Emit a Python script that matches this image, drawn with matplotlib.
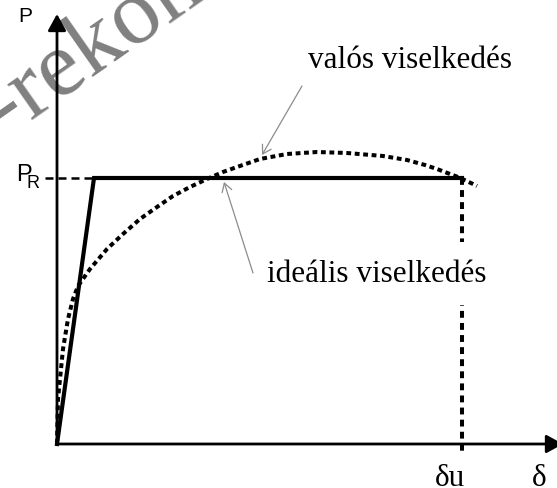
import matplotlib.pyplot as plt

# Idealised elastic-plastic diagram (P - delta), units are arbitrary
P_R = 266          # plastic resistance level
delta_y = 37       # end of the elastic branch
delta_u = 405      # ultimate deformation

ideal_delta = [0, delta_y, delta_u]
ideal_P = [0, P_R, P_R]

# real behaviour, read point by point
real_delta = [0, 1, 6, 11, 16, 21, 33, 50, 66, 83, 100, 116, 133, 150, 166,
              180, 203, 230, 260, 290, 326, 350, 368, 380, 393, 401, 416, 420]
real_P = [0, 45, 95, 125, 145, 158, 175, 195, 210, 225, 237, 248, 257, 265, 272,
          277, 285, 290, 292, 291, 288, 284, 279, 275, 270, 267, 260, 258]

serif = ['Liberation Serif', 'DejaVu Serif']
sans = ['Liberation Sans', 'DejaVu Sans']

fig = plt.figure(figsize=(5.57, 4.89), dpi=100)
ax = fig.add_axes([0, 0, 1, 1])
ax.set_xlim(-57, 500)
ax.set_ylim(-44, 445)
ax.axis('off')

# background stamp
ax.text(-52, 309, '-rekom', fontsize=68, family=serif, color='#808080',
        rotation=35, rotation_mode='anchor', ha='left', va='baseline', zorder=0)

# axes with arrow heads
axis_arrow = dict(arrowstyle='-|>,head_length=1.0,head_width=0.55', mutation_scale=10,
                  lw=2.0, color='black', shrinkA=0, shrinkB=0)
ax.annotate('', xy=(0, 430), xytext=(0, 0), arrowprops=axis_arrow,
            annotation_clip=False, zorder=3)
ax.annotate('', xy=(506, 0), xytext=(0, 0), arrowprops=axis_arrow,
            annotation_clip=False, zorder=3)

# helper lines for P_R and delta_u
ax.plot([-12, delta_y], [P_R, P_R], color='black', lw=1.8,
        linestyle=(0, (3.2, 2.0)), dash_capstyle='butt', zorder=2)
ax.plot([delta_u, delta_u], [P_R, -10], color='black', lw=2.9,
        linestyle=(0, (1.7, 1.3)), dash_capstyle='butt', zorder=1)

# ideal and real curves
ax.plot(ideal_delta, ideal_P, color='black', lw=3.0, solid_joinstyle='miter', zorder=4)
ax.plot(real_delta, real_P, color='black', lw=2.9, linestyle=(0, (1.2, 0.9)),
        dash_capstyle='butt', zorder=4)

# axis labels
ax.text(-31.5, 428.5, 'P', fontsize=15, family=sans, ha='center', va='center')
ax.text(-33.5, 270, 'P', fontsize=17, family=sans, ha='center', va='center')
ax.text(-24.5, 261, 'R', fontsize=13, family=sans, ha='center', va='center')
ax.text(378, -41, 'δu', fontsize=22.5, family=serif, ha='left', va='baseline')
ax.text(475, -41, 'δ', fontsize=22.5, family=serif, ha='left', va='baseline')

# curve labels with leader arrows
leader = dict(arrowstyle='->,head_length=0.5,head_width=0.3', mutation_scale=12,
              lw=0.9, color='#8c8c8c', shrinkA=0, shrinkB=0)
ax.text(251, 377, 'valós viselkedés', fontsize=22.5, family=serif,
        ha='left', va='baseline', zorder=5)
ax.annotate('', xy=(205, 289), xytext=(245, 358), arrowprops=leader, zorder=5)

ax.text(210, 163, 'ideális viselkedés', fontsize=22.5, family=serif,
        ha='left', va='baseline', zorder=5,
        bbox=dict(boxstyle='square,pad=0.55', fc='white', ec='none'))
ax.annotate('', xy=(167, 262), xytext=(196, 171), arrowprops=leader, zorder=5)

fig.savefig('out.png', dpi=100)
